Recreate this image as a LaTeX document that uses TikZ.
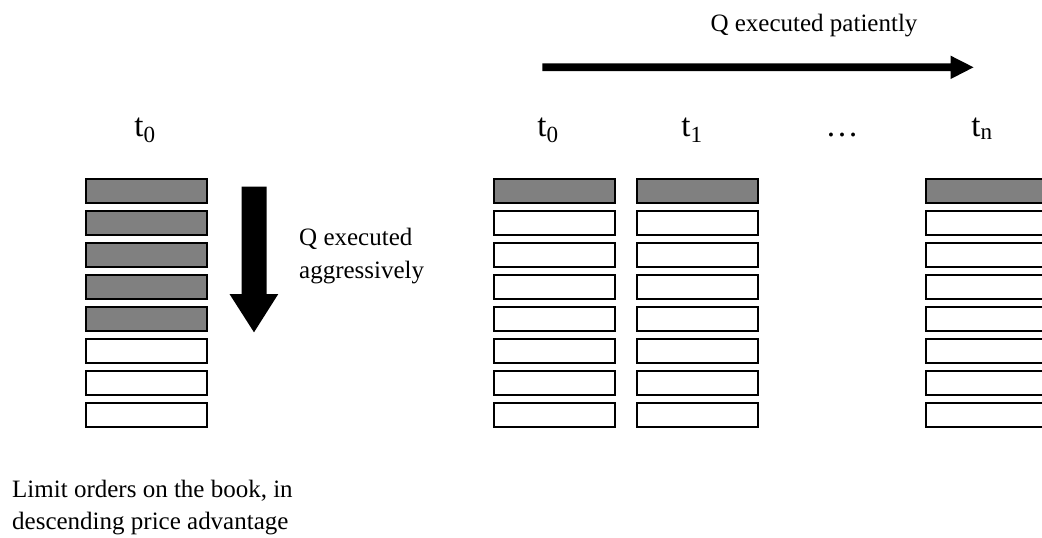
\documentclass[tikz,border=0pt]{standalone}
\usepackage{fontspec}
\setmainfont{Liberation Serif}
\definecolor{bookgray}{HTML}{808080}
\begin{document}
\begin{tikzpicture}[x=1pt,y=-1pt,
  order/.style={draw=black, line width=1.6pt, fill=white, inner sep=0pt, outer sep=0pt,
                minimum width=121pt, minimum height=24pt, anchor=north west},
  taken/.style={order, fill=bookgray},
  lbl/.style={font=\fontsize{25}{33}\selectfont, inner sep=0pt},
  tlbl/.style={font=\fontsize{33}{40}\selectfont, inner sep=0pt, anchor=base},
  blockarrow/.style={fill=black, draw=none}]
\useasboundingbox (0,0) rectangle (1042,538);
\clip (0,0) rectangle (1042,538);

% left book (aggressive execution)
\foreach \i in {0,...,4}{
  \node[taken] (L\i) at (85.7,179+32*\i) {};
}
\foreach \i in {5,...,7}{
  \node[order] (L\i) at (85.7,179+32*\i) {};
}

% right books (patient execution)
\foreach \c/\x in {A/494,B/637,N/926}{
  \node[taken] (\c0) at (\x,179) {};
  \foreach \i in {1,...,7}{
    \node[order] (\c\i) at (\x,179+32*\i) {};
  }
}

% time labels
\node[tlbl] (lt0) at (145,136) {t\textsubscript{0}};
\node[tlbl] (rt0) at (548,136) {t\textsubscript{0}};
\node[tlbl] (rt1) at (692,136) {t\textsubscript{1}};
\node[tlbl] (rdots) at (842,136) {…};
\node[tlbl] (rtn) at (982,136) {t\textsubscript{n}};

% aggressive arrow
\fill[blockarrow] (241.7,186.7) -- (266.7,186.7) -- (266.7,294) -- (278.3,294)
  -- (254,332.3) -- (229.5,294) -- (241.7,294) -- cycle;
\node[lbl, anchor=base west] (qa1) at (299,245) {Q executed};
\node[lbl, anchor=base west] (qa2) at (299,278) {aggressively};

% patient arrow
\fill[blockarrow] (542.3,63.3) -- (950.7,63.3) -- (950.7,55.7) -- (973.5,67.3)
  -- (950.7,79) -- (950.7,71) -- (542.3,71) -- cycle;
\node[lbl, anchor=base] (qp) at (814,31) {Q executed patiently};

% caption
\node[lbl, anchor=base west] (cap1) at (12,497) {Limit orders on the book, in};
\node[lbl, anchor=base west] (cap2) at (12,529) {descending price advantage};
\end{tikzpicture}
\end{document}
